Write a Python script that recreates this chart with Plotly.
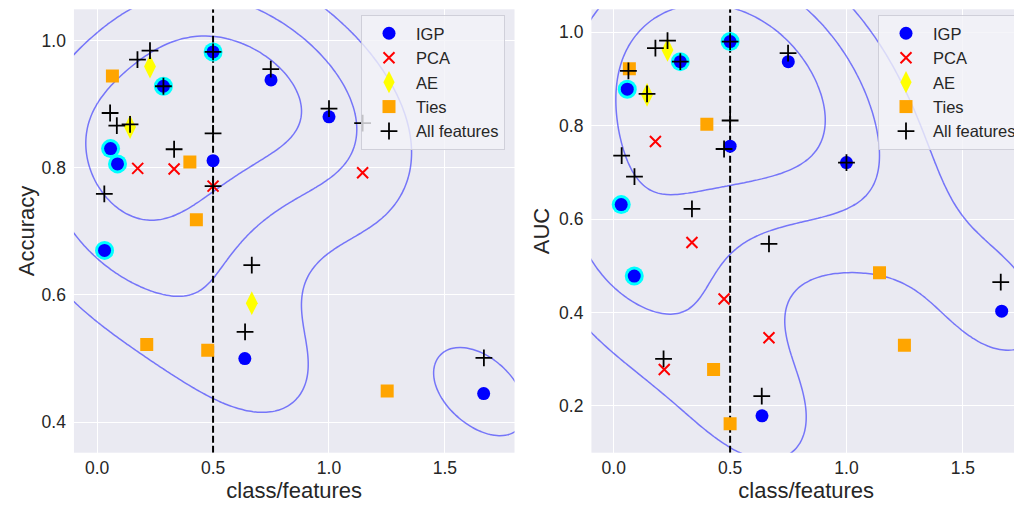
import numpy as np
import plotly.graph_objects as go

# ---------------- data ----------------
THRESHOLD = 0.5

IGP_X = [0.032, 0.058, 0.088, 0.286, 0.5, 0.5, 0.637, 0.75, 1.0, 1.667]
IGP_HIGHLIGHT = [True, True, True, True, True, False, False, False, False, False]
IGP_ACC = [0.670, 0.830, 0.806, 0.928, 0.982, 0.811, 0.500, 0.938, 0.880, 0.445]
IGP_AUC = [0.631, 0.878, 0.478, 0.937, 0.980, 0.756, 0.179, 0.937, 0.721, 0.403]

PCA_ACC_X = [0.175, 0.332, 0.5, 1.145]
PCA_ACC_Y = [0.799, 0.798, 0.771, 0.792]
PCA_AUC_X = [0.179, 0.336, 0.474, 0.667, 0.217]
PCA_AUC_Y = [0.766, 0.550, 0.429, 0.346, 0.278]

AE_ACC_X = [0.228, 0.142, 0.667]
AE_ACC_Y = [0.959, 0.864, 0.587]
AE_AUC_X = [0.231, 0.143]
AE_AUC_Y = [0.962, 0.866]

TIES_ACC_X = [0.066, 0.400, 0.428, 0.214, 0.477, 1.251]
TIES_ACC_Y = [0.944, 0.809, 0.718, 0.522, 0.513, 0.449]
TIES_AUC_X = [0.067, 0.400, 0.429, 0.500, 1.142, 1.249]
TIES_AUC_Y = [0.922, 0.803, 0.278, 0.162, 0.485, 0.330]

ALL_ACC_X = [0.174, 0.228, 0.5, 0.286, 0.749, 0.056, 0.085, 0.142, 0.332,
             0.5, 0.5, 0.031, 1.0, 1.145, 0.667, 0.638, 1.668]
ALL_ACC_Y = [0.970, 0.984, 0.982, 0.928, 0.955, 0.886, 0.866, 0.868, 0.829,
             0.854, 0.771, 0.759, 0.893, 0.870, 0.647, 0.542, 0.501]
ALL_AUC_X = [0.179, 0.231, 0.5, 0.286, 0.749, 0.063, 0.143, 0.5, 0.474,
             0.034, 0.089, 0.336, 0.667, 1.0, 0.214, 0.636, 1.663]
ALL_AUC_Y = [0.966, 0.982, 0.980, 0.937, 0.955, 0.917, 0.868, 0.811, 0.750,
             0.736, 0.691, 0.622, 0.547, 0.721, 0.301, 0.221, 0.465]

# KDE of the IGP points, drawn at these iso-proportion levels (seaborn style)
KDE_ISO_LEVELS = [0.25, 0.5, 0.75]

X_TICKS = [0.0, 0.5, 1.0, 1.5]
ACC_TICKS = [0.4, 0.6, 0.8, 1.0]
AUC_TICKS = [0.2, 0.4, 0.6, 0.8, 1.0]
X_RANGE_L = [-0.1, 1.8]
X_RANGE_R = [-0.096, 1.75]
ACC_RANGE = [0.352, 1.049]
AUC_RANGE = [0.10, 1.049]

# ---------------- KDE (gaussian kde, Scott bandwidth, seaborn grid) ----------------
def kde_grid(xs, ys, iso_levels, gridsize=200, cut=3):
    data = np.vstack([xs, ys]).astype(float)
    n = data.shape[1]
    factor = n ** (-1.0 / 6)
    cov = np.cov(data) * factor ** 2
    inv = np.linalg.inv(cov)
    norm = n * 2 * np.pi * np.sqrt(np.linalg.det(cov))
    bw = np.sqrt(np.diag(cov))
    gx = np.linspace(data[0].min() - cut * bw[0], data[0].max() + cut * bw[0], gridsize)
    gy = np.linspace(data[1].min() - cut * bw[1], data[1].max() + cut * bw[1], gridsize)
    XX, YY = np.meshgrid(gx, gy)
    pts = np.vstack([XX.ravel(), YY.ravel()])
    dens = np.zeros(pts.shape[1])
    for i in range(n):
        d = pts - data[:, i:i + 1]
        q = np.sum(d * (inv @ d), axis=0)
        dens += np.exp(-0.5 * q)
    Z = (dens / norm).reshape(XX.shape)
    vals = np.sort(Z.ravel())[::-1]
    cum = np.cumsum(vals) / vals.sum()
    idx = np.searchsorted(cum, 1 - np.asarray(iso_levels))
    levels = np.take(vals, idx, mode="clip")
    return gx, gy, Z, levels

FONT = "Liberation Sans, Arial, sans-serif"
TXT = "#262626"
CONTOUR_COLOR = "rgba(0,0,255,0.5)"

fig = go.Figure()

def add_panel(xa, ya, igp_y, yrange, pca_x, pca_y, ae_x, ae_y, ties_x, ties_y,
              all_x, all_y, legend):
    gx, gy, Z, levels = kde_grid(IGP_X, igp_y, KDE_ISO_LEVELS)
    for L in levels:
        fig.add_trace(go.Contour(
            x=gx, y=gy, z=Z, xaxis=xa, yaxis=ya,
            contours=dict(start=L, end=L, size=1, coloring="lines"),
            colorscale=[[0, CONTOUR_COLOR], [1, CONTOUR_COLOR]],
            line=dict(width=1.5), showscale=False, showlegend=False,
            hoverinfo="skip"))
    fig.add_trace(go.Scatter(x=[THRESHOLD, THRESHOLD], y=yrange, mode="lines",
                             xaxis=xa, yaxis=ya, showlegend=False, hoverinfo="skip",
                             line=dict(color="black", width=2, dash="7px,3px")))
    hx = [x for x, h in zip(IGP_X, IGP_HIGHLIGHT) if h]
    hy = [y for y, h in zip(igp_y, IGP_HIGHLIGHT) if h]
    fig.add_trace(go.Scatter(x=hx, y=hy, mode="markers", xaxis=xa, yaxis=ya,
                             marker=dict(symbol="circle", size=19, color="#00FFFF"),
                             showlegend=False, hoverinfo="skip"))
    fig.add_trace(go.Scatter(x=IGP_X, y=igp_y, mode="markers", name="IGP", xaxis=xa, yaxis=ya,
                             marker=dict(symbol="circle", size=13, color="#0000FF"),
                             legend=legend, legendgroup="a" + legend))
    fig.add_trace(go.Scatter(x=pca_x, y=pca_y, mode="markers", name="PCA", xaxis=xa, yaxis=ya,
                             marker=dict(symbol="x-thin", size=11, line=dict(color="#FF0000", width=2)),
                             legend=legend, legendgroup="b" + legend))
    fig.add_trace(go.Scatter(x=ae_x, y=ae_y, mode="markers", name="AE", xaxis=xa, yaxis=ya,
                             marker=dict(symbol="diamond-tall", size=17, color="#FFFF00"),
                             legend=legend, legendgroup="c" + legend))
    fig.add_trace(go.Scatter(x=ties_x, y=ties_y, mode="markers", name="Ties", xaxis=xa, yaxis=ya,
                             marker=dict(symbol="square", size=13, color="#FFA500"),
                             legend=legend, legendgroup="d" + legend))
    fig.add_trace(go.Scatter(x=all_x, y=all_y, mode="markers", name="All features", xaxis=xa, yaxis=ya,
                             marker=dict(symbol="cross-thin", size=12, line=dict(color="#000000", width=1.8)),
                             legend=legend, legendgroup="e" + legend))

add_panel("x", "y", IGP_ACC, ACC_RANGE, PCA_ACC_X, PCA_ACC_Y,
          AE_ACC_X, AE_ACC_Y, TIES_ACC_X, TIES_ACC_Y, ALL_ACC_X, ALL_ACC_Y, "legend")
add_panel("x2", "y2", IGP_AUC, AUC_RANGE, PCA_AUC_X, PCA_AUC_Y,
          AE_AUC_X, AE_AUC_Y, TIES_AUC_X, TIES_AUC_Y, ALL_AUC_X, ALL_AUC_Y, "legend2")

# the page body has an 8px margin: positions below are window pixels minus 8
W, H = 1014, 500
OFF = 8
def fx(px):
    return (px - OFF) / W
def fy(py):
    return 1 - (py - OFF) / H

axis_common = dict(showgrid=True, gridcolor="white", gridwidth=1.3, zeroline=False,
                   showline=False, ticks="", automargin=False,
                   tickfont=dict(family=FONT, size=17.5, color=TXT),
                   title_font=dict(family=FONT, size=22, color=TXT))

legend_common = dict(font=dict(family=FONT, size=16.5, color=TXT),
                     bgcolor="rgba(242,242,247,0.8)", bordercolor="rgba(204,204,214,0.9)",
                     borderwidth=1, traceorder="grouped", tracegroupgap=0,
                     xanchor="left", yanchor="top", itemsizing="trace", itemwidth=44)

fig.update_layout(
    width=W, height=H,
    margin=dict(l=0, r=0, t=0, b=0),
    paper_bgcolor="white", plot_bgcolor="#EAEAF2",
    showlegend=True,
    xaxis=dict(axis_common, domain=[fx(74), fx(515)], range=X_RANGE_L, ticklabelstandoff=3,
               tickvals=X_TICKS, tickformat=".1f", title=dict(text="class/features", standoff=5)),
    yaxis=dict(axis_common, domain=[fy(452.7), fy(9.3)], range=ACC_RANGE, ticklabelstandoff=7,
               tickvals=ACC_TICKS, tickformat=".1f", title=dict(text="Accuracy", standoff=0)),
    xaxis2=dict(axis_common, domain=[fx(592), 1.0], range=X_RANGE_R, anchor="y2", ticklabelstandoff=3,
                tickvals=X_TICKS, tickformat=".1f", title=dict(text="class/features", standoff=5)),
    yaxis2=dict(axis_common, domain=[fy(452.7), fy(9.3)], range=AUC_RANGE, ticklabelstandoff=7,
                tickvals=AUC_TICKS, tickformat=".1f", anchor="x2", title=dict(text="AUC", standoff=3)),
    legend=dict(legend_common, x=fx(361), y=fy(15)),
    legend2=dict(legend_common, x=fx(879), y=fy(15)),
)

fig.write_html("out.html")
